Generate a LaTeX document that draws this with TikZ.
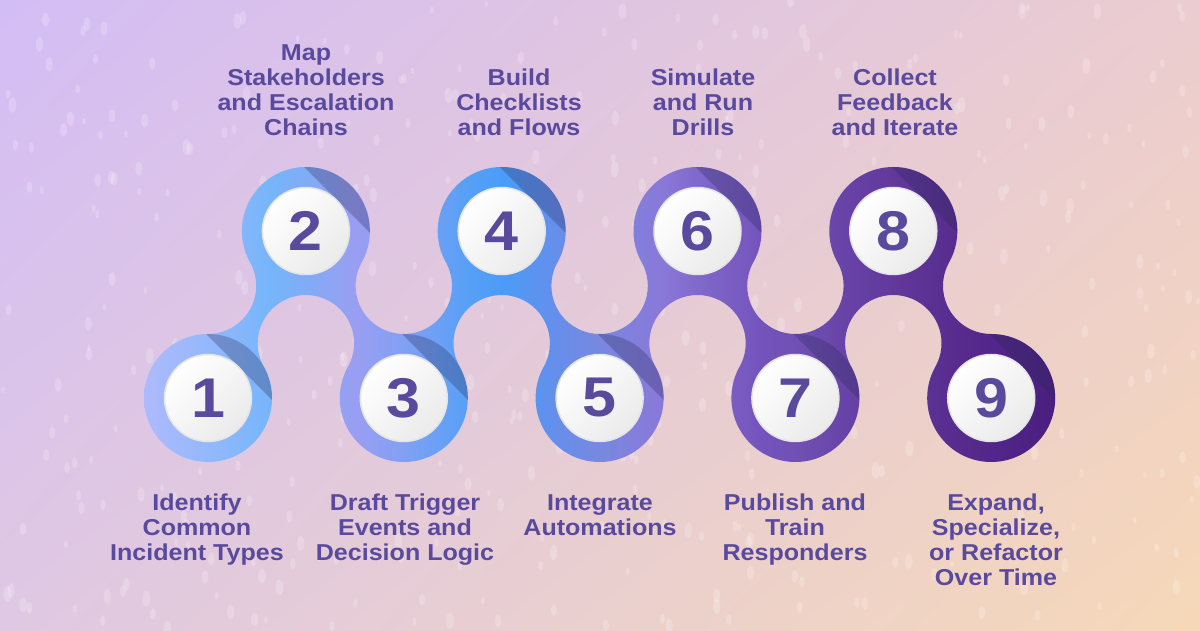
\documentclass[tikz,border=0pt]{standalone}
\usepackage{fontspec}
\setmainfont{Liberation Sans}[FakeStretch=1.09]
\usetikzlibrary{shadings}

\definecolor{ink}{HTML}{5A4A9E}
\definecolor{bgtl}{HTML}{D3BDF5}
\definecolor{bgtr}{HTML}{EBCCD0}
\definecolor{bgbl}{HTML}{DFC8E3}
\definecolor{bgbr}{HTML}{F6D8B8}
\definecolor{shadowc}{HTML}{2A2A5A}
\definecolor{ka}{HTML}{AEBAFD}
\definecolor{kb}{HTML}{94B8FC}
\definecolor{kc}{HTML}{76B5FA}
\definecolor{kd}{HTML}{80ACF6}
\definecolor{ke}{HTML}{9A9EF2}
\definecolor{kf}{HTML}{80A0F4}
\definecolor{kg}{HTML}{58A0F6}
\definecolor{kh}{HTML}{4A9CF8}
\definecolor{ki}{HTML}{6A8CE8}
\definecolor{kj}{HTML}{7888E0}
\definecolor{kk}{HTML}{8A78D8}
\definecolor{kl}{HTML}{8068CC}
\definecolor{km}{HTML}{7454BC}
\definecolor{kn}{HTML}{7050B4}
\definecolor{ko}{HTML}{6640A4}
\definecolor{kp}{HTML}{62389C}
\definecolor{kq}{HTML}{572C8E}
\definecolor{kr}{HTML}{52268A}
\definecolor{ks}{HTML}{4A1E7E}

% chain colours, 140pt .. 1060pt mapped to 25bp .. 75bp
\pgfdeclarehorizontalshading{chainshade}{100bp}{
  color(0bp)=(ka); color(25.2bp)=(ka);
  color(28.7bp)=(kb); color(32.1bp)=(kc);
  color(34.0bp)=(kd); color(36.7bp)=(ke);
  color(39.4bp)=(kf); color(42.7bp)=(kg);
  color(44.7bp)=(kh); color(48.2bp)=(ki);
  color(50.0bp)=(kj); color(53.4bp)=(kk);
  color(55.3bp)=(kl); color(58.7bp)=(km);
  color(60.7bp)=(kn); color(64.0bp)=(ko);
  color(65.9bp)=(kp); color(69.3bp)=(kq);
  color(71.3bp)=(kr); color(74.8bp)=(ks);
  color(100bp)=(ks)}

\def\xo{208}
\def\dx{97.9}
\def\ylo{232}
\def\yhi{399}
\def\R{64}
\def\ri{44}
\def\rh{48.2}
\def\s{112.2}

\begin{document}
\begin{tikzpicture}[x=1pt,y=1pt,
  speck/.style={fill=white,opacity=.2},
  wedge/.style={fill=shadowc,opacity=.3},
  numdisc/.style={circle,minimum size=87pt,inner sep=0pt,draw=black!10,line width=1.5pt,
    top color=white,bottom color=black!8,shading angle=45,text=ink,
    font=\bfseries\fontsize{56}{56}\selectfont},
  steplabel/.style={align=center,inner sep=0pt,text=ink,
    font=\bfseries\fontsize{23}{25}\selectfont}]
\useasboundingbox (0,0) rectangle (1200,630);
\shade[upper left=bgtl,upper right=bgtr,lower left=bgbl,lower right=bgbr]
  (0,0) rectangle (1200,630);

% specks
\pgfmathsetseed{42}
\foreach \k in {1,...,420}{
  \pgfmathsetmacro\sx{rnd*1200}
  \pgfmathsetmacro\sy{rnd*630}
  \pgfmathsetmacro\sw{1.6+rnd*2.4}
  \fill[speck] (\sx,\sy) ellipse ({\sw} and {2*\sw});
}

\coordinate (c1) at ({\xo+0*\dx},\ylo);
\coordinate (c2) at ({\xo+1*\dx},\yhi);
\coordinate (c3) at ({\xo+2*\dx},\ylo);
\coordinate (c4) at ({\xo+3*\dx},\yhi);
\coordinate (c5) at ({\xo+4*\dx},\ylo);
\coordinate (c6) at ({\xo+5*\dx},\yhi);
\coordinate (c7) at ({\xo+6*\dx},\ylo);
\coordinate (c8) at ({\xo+7*\dx},\yhi);
\coordinate (c9) at ({\xo+8*\dx},\ylo);
% gaps above the low rings and below the high rings
\coordinate (a1) at ({\xo+0*\dx},{\ylo+\s});
\coordinate (b2) at ({\xo+1*\dx},{\yhi-\s});
\coordinate (a3) at ({\xo+2*\dx},{\ylo+\s});
\coordinate (b4) at ({\xo+3*\dx},{\yhi-\s});
\coordinate (a5) at ({\xo+4*\dx},{\ylo+\s});
\coordinate (b6) at ({\xo+5*\dx},{\yhi-\s});
\coordinate (a7) at ({\xo+6*\dx},{\ylo+\s});
\coordinate (b8) at ({\xo+7*\dx},{\yhi-\s});
\coordinate (a9) at ({\xo+8*\dx},{\ylo+\s});

\begin{scope}
\clip (0,0) -- (0,630) -- (1200,630) -- (1200,0) -- cycle
  (a1) circle (\rh) (b2) circle (\rh) (a3) circle (\rh) (b4) circle (\rh)
  (a5) circle (\rh) (b6) circle (\rh) (a7) circle (\rh) (b8) circle (\rh)
  (a9) circle (\rh);
\clip (c1) circle (\R) (c2) circle (\R) (c3) circle (\R) (c4) circle (\R)
  (c5) circle (\R) (c6) circle (\R) (c7) circle (\R) (c8) circle (\R)
  (c9) circle (\R)
  (c1) -- (b2) -- (c2) -- (a1) -- cycle
  (c2) -- (b2) -- (c3) -- (a3) -- cycle
  (c3) -- (b4) -- (c4) -- (a3) -- cycle
  (c4) -- (b4) -- (c5) -- (a5) -- cycle
  (c5) -- (b6) -- (c6) -- (a5) -- cycle
  (c6) -- (b6) -- (c7) -- (a7) -- cycle
  (c7) -- (b8) -- (c8) -- (a7) -- cycle
  (c8) -- (b8) -- (c9) -- (a9) -- cycle;
\shade[shading=chainshade] (140,160) rectangle (1060,470);
\end{scope}

\foreach \i in {1,...,9}{
  \begin{scope}[shift={(c\i)},rotate=45]
    \clip (0,0) circle (\R);
    \fill[wedge] (\ri,-\R) rectangle (\R,\R);
  \end{scope}
  \node[numdisc] (n\i) at (c\i) {\i};
}

\node[steplabel,anchor=north] (t1) at (197,136) {Identify\\Common\\Incident Types};
\node[steplabel,anchor=south] (t2) at (306,494) {Map\\Stakeholders\\and Escalation\\Chains};
\node[steplabel,anchor=north] (t3) at (405,136) {Draft Trigger\\Events and\\Decision Logic};
\node[steplabel,anchor=south] (t4) at (519,494) {Build\\Checklists\\and Flows};
\node[steplabel,anchor=north] (t5) at (600,136) {Integrate\\Automations};
\node[steplabel,anchor=south] (t6) at (703,494) {Simulate\\and Run\\Drills};
\node[steplabel,anchor=north] (t7) at (795,136) {Publish and\\Train\\Responders};
\node[steplabel,anchor=south] (t8) at (895,494) {Collect\\Feedback\\and Iterate};
\node[steplabel,anchor=north] (t9) at (996,136) {Expand,\\Specialize,\\or Refactor\\Over Time};
\end{tikzpicture}
\end{document}
